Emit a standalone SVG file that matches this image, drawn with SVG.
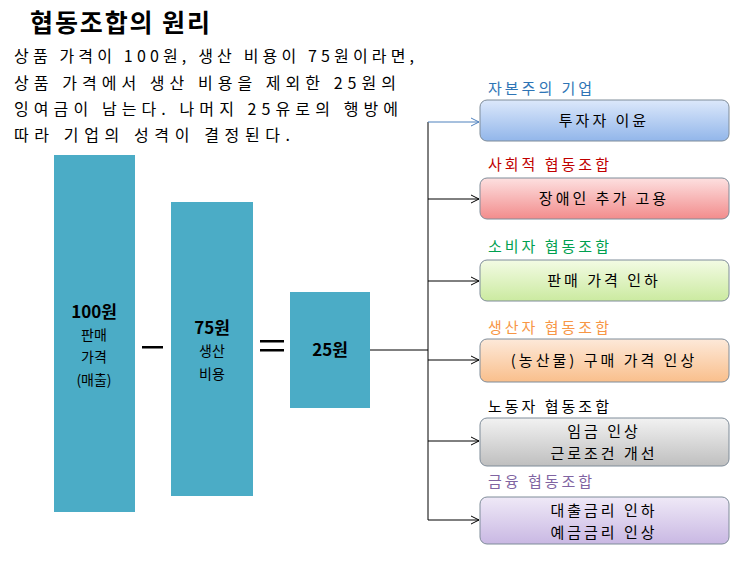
<svg xmlns="http://www.w3.org/2000/svg" width="740" height="563" viewBox="0 0 740 563">
<defs>
<linearGradient id="gb" x1="0" y1="0" x2="0" y2="1"><stop offset="0" stop-color="#dce8fb"/><stop offset="1" stop-color="#92b6ea"/></linearGradient>
<linearGradient id="gr" x1="0" y1="0" x2="0" y2="1"><stop offset="0" stop-color="#fde0e0"/><stop offset="1" stop-color="#f28c8c"/></linearGradient>
<linearGradient id="gg" x1="0" y1="0" x2="0" y2="1"><stop offset="0" stop-color="#f3fbe4"/><stop offset="1" stop-color="#cbeaa0"/></linearGradient>
<linearGradient id="go" x1="0" y1="0" x2="0" y2="1"><stop offset="0" stop-color="#fde9d9"/><stop offset="1" stop-color="#f9bf8c"/></linearGradient>
<linearGradient id="gy" x1="0" y1="0" x2="0" y2="1"><stop offset="0" stop-color="#f2f2f2"/><stop offset="1" stop-color="#bfbfbf"/></linearGradient>
<linearGradient id="gp" x1="0" y1="0" x2="0" y2="1"><stop offset="0" stop-color="#efe9f7"/><stop offset="1" stop-color="#c9b8e3"/></linearGradient>
<marker id="ar" markerWidth="10" markerHeight="10" refX="9" refY="5" orient="auto" markerUnits="userSpaceOnUse"><path d="M1,1 L9,5 L1,9" fill="none" stroke="#000" stroke-width="1"/></marker>
<marker id="arb" markerWidth="10" markerHeight="10" refX="9" refY="5" orient="auto" markerUnits="userSpaceOnUse"><path d="M1,1 L9,5 L1,9" fill="none" stroke="#4f81bd" stroke-width="1"/></marker>
</defs>
<style>
text{font-family:"Noto Sans CJK KR","Noto Sans",sans-serif;}
.bar{fill:#4bacc6;}
.bt{font-size:14px;text-anchor:middle;fill:#000;}
.bb{font-size:17px;font-weight:bold;text-anchor:middle;}
.box{stroke:#7f8c99;stroke-width:1;}
.lt{font-size:15px;}
.in{font-size:15px;text-anchor:middle;letter-spacing:3px;}
.desc{font-size:16px;}
</style>
<rect width="740" height="563" fill="#fff"/>
<text x="30" y="32" font-size="25" font-weight="bold" textLength="180" lengthAdjust="spacing">협동조합의 원리</text>
<g class="desc">
<text x="14" y="62" textLength="400" lengthAdjust="spacing">상품 가격이 100원, 생산 비용이 75원이라면,</text>
<text x="14" y="89" textLength="382" lengthAdjust="spacing">상품 가격에서 생산 비용을 제외한 25원의</text>
<text x="14" y="115" textLength="384" lengthAdjust="spacing">잉여금이 남는다. 나머지 25유로의 행방에</text>
<text x="14" y="141" textLength="276" lengthAdjust="spacing">따라 기업의 성격이 결정된다.</text>
</g>
<g id="bar100"><rect class="bar" x="54" y="155" width="81" height="357"/>
<text class="bb" x="94" y="318">100원</text><text class="bt" x="94" y="340">판매</text><text class="bt" x="94" y="362">가격</text><text class="bt" x="94" y="385">(매출)</text></g>
<g id="minus"><rect x="142" y="346" width="21" height="2.5" fill="#000"/></g>
<g id="bar75"><rect class="bar" x="171" y="202" width="82" height="294"/>
<text class="bb" x="212" y="334">75원</text><text class="bt" x="212" y="356">생산</text><text class="bt" x="212" y="379">비용</text></g>
<g id="equals"><rect x="260" y="340" width="24" height="2.5" fill="#000"/><rect x="260" y="349" width="24" height="2.5" fill="#000"/></g>
<g id="bar25"><rect class="bar" x="290" y="292" width="80" height="116"/>
<text class="bb" x="330" y="356">25원</text></g>
<g id="connectors" fill="none" stroke="#000" stroke-width="1">
<path d="M370 350 H428"/>
<path d="M428 122 V520"/>
<path d="M428 122 H479" stroke="#4f81bd" marker-end="url(#arb)"/>
<path d="M428 199 H479" marker-end="url(#ar)"/>
<path d="M428 281 H479" marker-end="url(#ar)"/>
<path d="M428 360 H479" marker-end="url(#ar)"/>
<path d="M428 441 H479" marker-end="url(#ar)"/>
<path d="M428 520 H479" marker-end="url(#ar)"/>
</g>
<g id="n1"><text class="lt" x="488" y="94" fill="#2e74b5" letter-spacing="3">자본주의 기업</text>
<rect class="box" x="480" y="100" width="249" height="41" rx="7" fill="url(#gb)"/><text class="in" x="604" y="126">투자자 이윤</text></g>
<g id="n2"><text class="lt" x="488" y="170" fill="#c00000" letter-spacing="3">사회적 협동조합</text>
<rect class="box" x="480" y="178" width="249" height="41" rx="7" fill="url(#gr)"/><text class="in" x="604" y="204">장애인 추가 고용</text></g>
<g id="n3"><text class="lt" x="488" y="252" fill="#00a050" letter-spacing="3">소비자 협동조합</text>
<rect class="box" x="480" y="260" width="249" height="41" rx="7" fill="url(#gg)"/><text class="in" x="604" y="286">판매 가격 인하</text></g>
<g id="n4"><text class="lt" x="488" y="333" fill="#f79646" letter-spacing="3">생산자 협동조합</text>
<rect class="box" x="480" y="339" width="249" height="43" rx="7" fill="url(#go)"/><text class="in" x="604" y="366">(농산물) 구매 가격 인상</text></g>
<g id="n5"><text class="lt" x="488" y="412" fill="#000" letter-spacing="3">노동자 협동조합</text>
<rect class="box" x="480" y="418" width="249" height="48" rx="7" fill="url(#gy)"/><text class="in" x="604" y="437">임금 인상</text><text class="in" x="604" y="459">근로조건 개선</text></g>
<g id="n6"><text class="lt" x="488" y="487" fill="#8064a2" letter-spacing="3">금융 협동조합</text>
<rect class="box" x="480" y="497" width="249" height="47" rx="7" fill="url(#gp)"/><text class="in" x="604" y="516">대출금리 인하</text><text class="in" x="604" y="538">예금금리 인상</text></g>
</svg>
